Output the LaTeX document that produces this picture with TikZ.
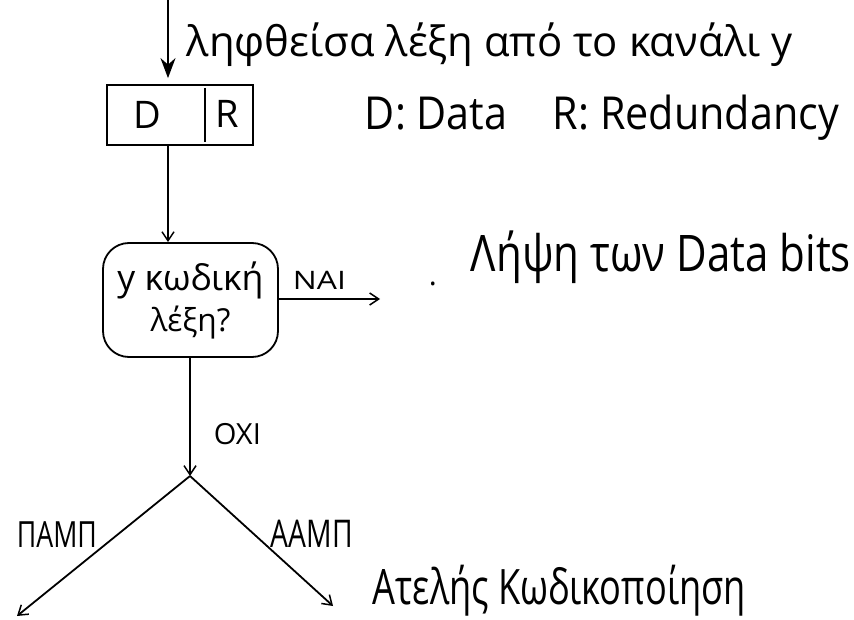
\documentclass[tikz,border=0pt]{standalone}
\usepackage{fontspec}
\setmainfont{Open Sans}
\usetikzlibrary{arrows.meta}
\newcommand{\hw}[3]{\scalebox{1}[#2]{\resizebox{#1}{!}{#3}}}
\begin{document}
\begin{tikzpicture}[x=1pt,y=-1pt,
  line width=1.8pt,
  lbl/.style={inner sep=0pt, anchor=base west, font=\fontsize{30}{32}\selectfont},
  openarrow/.style={-{Straight Barb[length=9pt,width=12pt,line width=1.5pt]}},
  solidarrow/.style={-{Stealth[length=20pt,width=15pt]}}]
\useasboundingbox (0,0) rectangle (854,620);
% top input
\coordinate (start) at (168,0);
\node[lbl] (recv) at (186,57) {\hw{606pt}{1}{ληφθείσα λέξη από το κανάλι y}};
% D|R box
\node[draw, minimum width=146pt, minimum height=60pt, inner sep=0pt] (dr) at (180,115) {};
\node[lbl, font=\fontsize{38}{40}\selectfont] (d) at (133,129) {D};
\node[lbl, font=\fontsize{38}{40}\selectfont] (r) at (215,128) {R};
\draw[line width=2.6pt] (205,88) -- (205,142);
\node[lbl] (legend) at (364,130) {\hw{474pt}{1.1}{D: Data\hspace{1.1em}R: Redundancy}};
\draw[solidarrow, shorten >=6pt] (start) -- (start |- dr.north);
% decision
\node[draw, rounded corners=26pt, minimum width=175pt, minimum height=114pt, inner sep=0pt,
  align=center] (dec) at (190.5,300)
  {\resizebox{146pt}{!}{y κωδική}\\[6pt]\resizebox{80pt}{!}{λέξη?}};
\draw[openarrow] (start |- dr.south) -- (start |- dec.north);
% yes branch
\coordinate (yesend) at (380,299);
\draw[openarrow] (dec.east |- yesend) -- (yesend);
\node[lbl] (nai) at (292,290) {\hw{53pt}{0.8}{ΝΑΙ}};
\node[lbl] (dot) at (428,286) {.};
\node[lbl] (take) at (470,272) {\hw{380pt}{1.2}{Λήψη των Data bits}};
% no branch
\coordinate (split) at (190,476);
\draw[openarrow] (dec.south -| split) -- (split);
\node[lbl] (oxi) at (213,444) {\hw{47pt}{1}{ΟΧΙ}};
\coordinate (left) at (17,616);
\coordinate (right) at (333,606);
\draw[openarrow] (split) -- (left);
\draw[openarrow] (split) -- (right);
\node[lbl] (pamp) at (16,547) {\hw{80pt}{1.35}{ΠΑΜΠ}};
\node[lbl] (aamp) at (270,547) {\hw{82pt}{1.35}{ΑΑΜΠ}};
\node[lbl] (atel) at (372,604) {\hw{373pt}{1.35}{Ατελής Κωδικοποίηση}};
\end{tikzpicture}
\end{document}
